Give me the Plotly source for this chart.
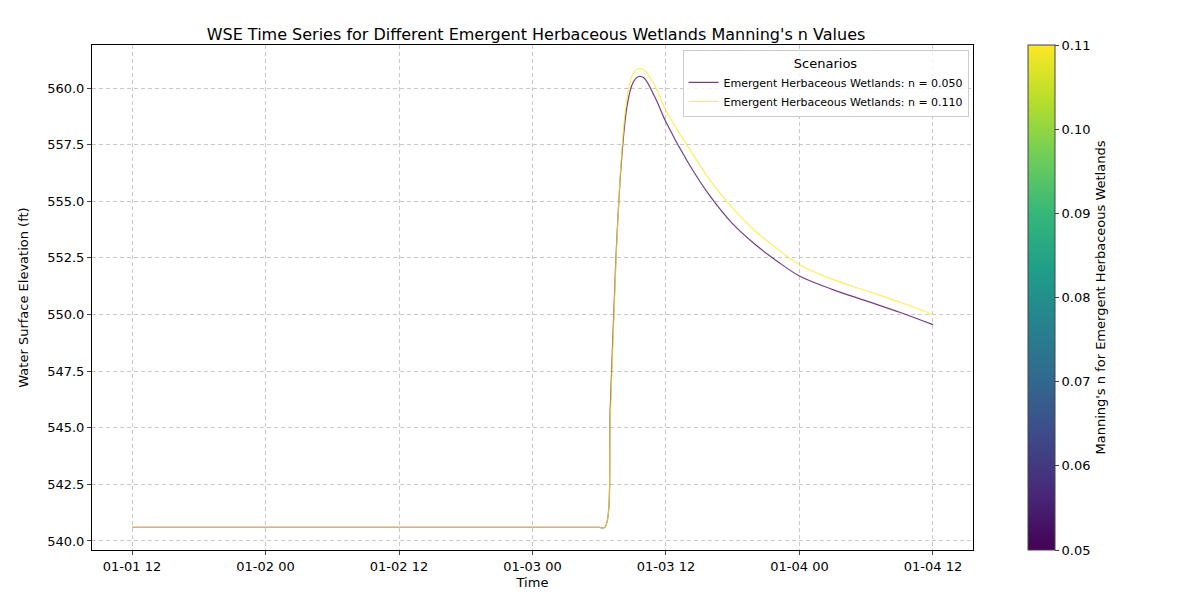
import plotly.graph_objects as go

times = ["2000-01-01 12:00","2000-01-03 06:00","2000-01-03 06:30","2000-01-03 07:00","2000-01-03 07:30",
         "2000-01-03 08:00","2000-01-03 08:30","2000-01-03 09:00","2000-01-03 09:30","2000-01-03 10:00",
         "2000-01-03 11:00","2000-01-03 12:00","2000-01-03 14:00","2000-01-03 16:00","2000-01-03 18:00",
         "2000-01-03 20:00","2000-01-03 22:00","2000-01-04 00:00","2000-01-04 03:00","2000-01-04 06:00",
         "2000-01-04 09:00","2000-01-04 12:00"]
wse_n050 = [540.6,540.6,540.6,546.0,552.5,556.8,559.2,560.2,560.5,560.45,559.6,558.5,556.7,555.2,554.0,
            553.1,552.35,551.7,551.1,550.6,550.1,549.55]
wse_n110 = [540.6,540.6,540.6,545.5,552.3,557.0,559.6,560.6,560.85,560.8,560.1,559.0,557.4,555.9,554.7,
            553.7,552.9,552.2,551.55,551.05,550.55,550.0]
names = ["Emergent Herbaceous Wetlands: n = 0.050","Emergent Herbaceous Wetlands: n = 0.110"]
colors = ["rgba(68,1,84,0.75)","rgba(253,231,37,0.75)"]

fig = go.Figure()
for vals, nm, c in zip([wse_n050, wse_n110], names, colors):
    fig.add_trace(go.Scatter(x=times, y=vals, mode="lines", name=nm,
                             line=dict(color=c, width=1.2, shape="spline", smoothing=1.0)))
fig.add_trace(go.Scatter(x=[times[0]], y=[540.6], mode="markers", showlegend=False, hoverinfo="skip",
    marker=dict(size=0.1, opacity=0, color=[0.05], cmin=0.05, cmax=0.11, colorscale="Viridis",
                colorbar=dict(title=dict(text="Manning's n for Emergent Herbaceous Wetlands", side="right",
                              font=dict(size=13)), x=1.062, xanchor="left", xpad=0, ypad=0,
                              y=0.5, len=1.0, lenmode="fraction",
                              thickness=27, tickvals=[0.05,0.06,0.07,0.08,0.09,0.10,0.11],
                              ticktext=["0.05","0.06","0.07","0.08","0.09","0.10","0.11"], outlinewidth=1,
                              ticks="outside", ticklen=4, tickfont=dict(size=13)))))

grid = dict(showgrid=True, gridcolor="rgba(176,176,176,0.7)", griddash="4px,3px", gridwidth=1,
            showline=True, linecolor="black", mirror=True, ticks="outside", ticklen=4, zeroline=False,
            tickfont=dict(size=13))
fig.update_layout(
    width=1200, height=600, plot_bgcolor="white", paper_bgcolor="white",
    font=dict(family="DejaVu Sans", size=13, color="black"),
    title=dict(text="WSE Time Series for Different Emergent Herbaceous Wetlands Manning's n Values",
               x=0.44, xanchor="center", y=0.965, font=dict(size=16)),
    margin=dict(l=84, r=235, t=37, b=58),
    xaxis=dict(grid, title=dict(text="Time", standoff=5, font=dict(size=13)), tickformat="%m-%d %H",
               dtick=12*3600*1000, tick0="2000-01-01 00:00",
               range=["2000-01-01 08:24","2000-01-04 15:36"]),
    yaxis=dict(grid, title=dict(text="Water Surface Elevation (ft)", font=dict(size=13)), range=[539.6, 561.9],
               tickvals=[540,542.5,545,547.5,550,552.5,555,557.5,560],
               ticktext=["540.0","542.5","545.0","547.5","550.0","552.5","555.0","557.5","560.0"]),
    legend=dict(title=dict(text="Scenarios", side="top center", font=dict(size=13)), x=0.995, y=0.99,
                xanchor="right", yanchor="top", bgcolor="rgba(255,255,255,0.8)",
                bordercolor="#cccccc", borderwidth=1, font=dict(size=11)),
)
fig.write_html("out.html")
